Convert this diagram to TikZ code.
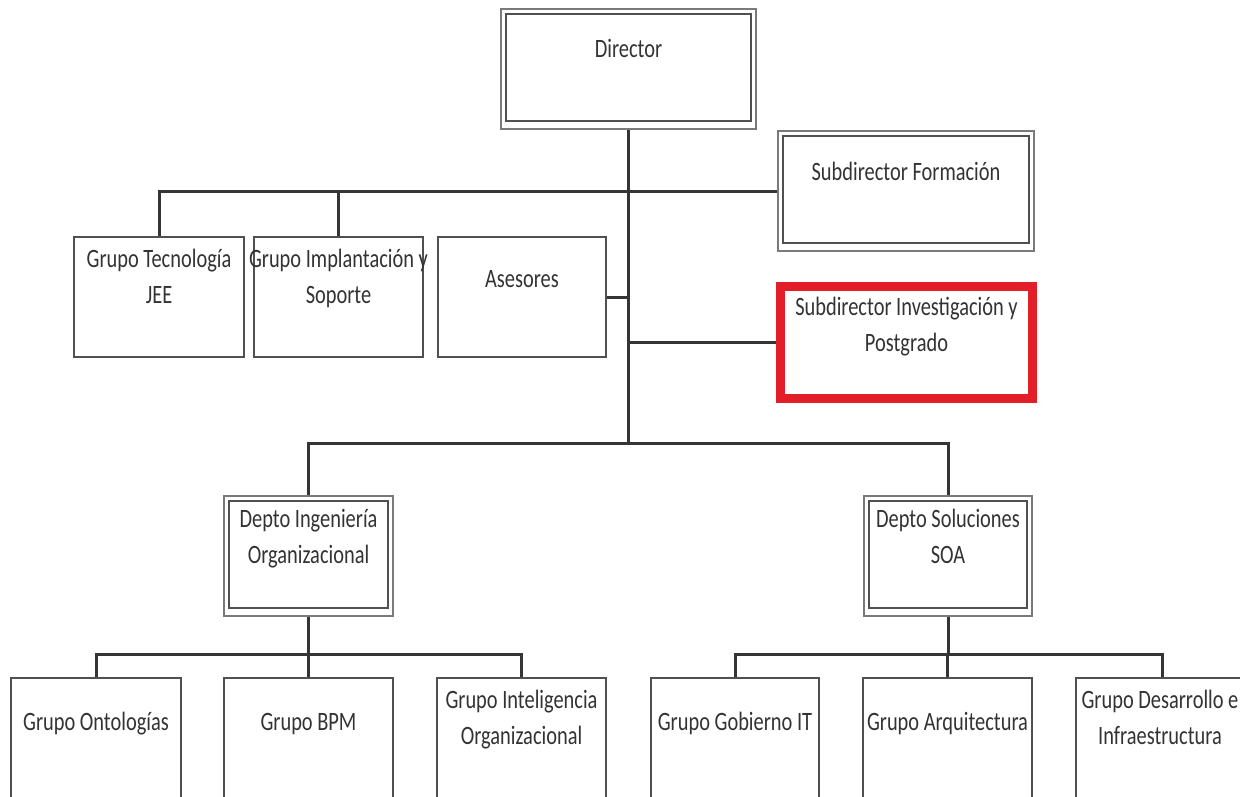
\documentclass[tikz,border=0pt]{standalone}
\usepackage{fontspec}
\setmainfont{Carlito}[FakeStretch=0.77]
\definecolor{framegray}{HTML}{7A7A7A}
\definecolor{innergray}{HTML}{505050}
\definecolor{linkgray}{HTML}{353535}
\definecolor{textgray}{HTML}{333333}
\definecolor{alertred}{RGB}{226,30,40}
% two centred lines whose baseline is that of the first line
\newcommand\twoline[2]{\vtop{\baselineskip=36pt\halign{\hfil##\hfil\cr#1\cr#2\cr}}}
\pgfdeclarelayer{bg}
\pgfdeclarelayer{links}
\pgfsetlayers{bg,links,main}
\begin{document}
\begin{tikzpicture}[x=1pt,y=-1pt,
  box/.style={draw=framegray,line width=2pt,fill=white,inner sep=0pt,outer sep=0pt,
              minimum width=#1,minimum height=120pt},
  box/.default=169pt,
  unit/.style={box=#1,draw=innergray},
  unit/.default=169pt,
  lowbox/.style={box=#1,draw=innergray,minimum height=172pt},
  redbox/.style={draw=alertred,line width=9pt,fill=white,inner sep=0pt,outer sep=0pt,
                 minimum width=252pt,minimum height=112pt},
  innerframe/.style={draw=innergray,line width=2pt},
  link/.style={draw=linkgray,line width=3pt},
  txt/.style={text=textgray,anchor=base,inner sep=0pt,font=\fontsize{26.5}{36}\selectfont}]
\useasboundingbox (0,0) rectangle (1240,797);
\clip (0,0) rectangle (1240,797);
\begin{pgfonlayer}{bg}
  \fill[white] (0,0) rectangle (1240,797);
\end{pgfonlayer}

% --- boxes with a double frame
\node[box=255pt] (D)  at (628.5,69)  {};
\node[box=256pt] (SF) at (906,191)   {};
\node[box=169pt] (DI) at (308.5,556) {};
\node[box=168pt] (DS) at (948,556)   {};
\foreach \n in {D,SF,DI,DS}
  \draw[innerframe] ([shift={(5,5)}]\n.north west) rectangle ([shift={(-5,-8)}]\n.south east);

% --- highlighted box
\node[redbox] (SI) at (906.5,342.5) {};

% --- single-frame boxes, upper row
\node[unit=170pt] (Tec) at (159,297)   {};
\node[unit=169pt] (Imp) at (338.5,297) {};
\node[unit=168pt] (As)  at (522,297)   {};

% --- single-frame boxes, lower row
\node[lowbox=170pt] (On)  at (96,764)    {};
\node[lowbox=169pt] (BPM) at (308.5,764) {};
\node[lowbox=169pt] (In)  at (521.5,764) {};
\node[lowbox=168pt] (Gob) at (735,764)   {};
\node[lowbox=169pt] (Arq) at (947.5,764) {};
\node[lowbox=172pt] (Des) at (1162,764)  {};

% --- labels
\node[txt] (tD)   at (628.5,58)  {Director};
\node[txt] (tSF)  at (906,180)   {Subdirector Formación};
\node[txt] (tSI)  at (906.5,315) {\twoline{Subdirector Investigación y}{Postgrado}};
\node[txt] (tTec) at (159,267)   {\twoline{Grupo Tecnología}{JEE}};
\node[txt] (tImp) at (338.5,267) {\twoline{Grupo Implantación y}{Soporte}};
\node[txt] (tAs)  at (522,287)   {Asesores};
\node[txt] (tDI)  at (308.5,527) {\twoline{Depto Ingeniería}{Organizacional}};
\node[txt] (tDS)  at (948,527)   {\twoline{Depto Soluciones}{SOA}};
\node[txt] (tOn)  at (96,730)    {Grupo Ontologías};
\node[txt] (tBPM) at (308.5,730) {Grupo BPM};
\node[txt] (tIn)  at (521.5,708) {\twoline{Grupo Inteligencia}{Organizacional}};
\node[txt] (tGob) at (735,730)   {Grupo Gobierno IT};
\node[txt] (tArq) at (947.5,730) {Grupo Arquitectura};
\node[txt] (tDes) at (1160,708)  {\twoline{Grupo Desarrollo e}{Infraestructura}};

% --- connectors
\coordinate (jmid) at (628.5,443);
\coordinate (jl)   at (308.5,654);
\coordinate (jr)   at (948,654);
\begin{pgfonlayer}{links}
  \draw[link] (D.south) -- (jmid);
  \draw[link] (Tec.north) |- (SF.west);
  \draw[link] (Imp.north) -- (Imp.north |- SF.west);
  \draw[link] (As.east) -- (As.east -| D.south);
  \draw[link] (SI.west) -- (SI.west -| D.south);
  \draw[link] (DI.north) |- (jmid);
  \draw[link] (DS.north) |- (jmid);
  \draw[link] (DI.south) -- (jl);
  \draw[link] (On.north) |- (jl);
  \draw[link] (In.north) |- (jl);
  \draw[link] (BPM.north) -- (jl);
  \draw[link] (DS.south) -- (jr);
  \draw[link] (Gob.north) |- (jr);
  \draw[link] (Des.north) |- (jr);
  \draw[link] (Arq.north) -- (Arq.north |- jr);
\end{pgfonlayer}
\end{tikzpicture}
\end{document}
